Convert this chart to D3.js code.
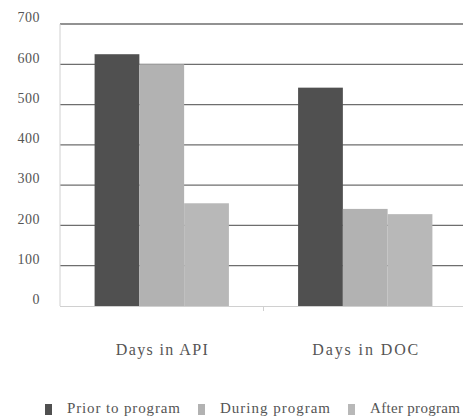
<!DOCTYPE html>
<html><head><meta charset="utf-8">
<script src="https://cdn.jsdelivr.net/npm/d3@7"></script>
<style>body{margin:0;background:#fff;} svg{display:block;}</style>
</head><body>
<svg id="c" width="463" height="419"></svg>
<script>
const categories = ["Days in API", "Days in DOC"];
const seriesNames = ["Prior to program", "During program", "After program"];
const priorValues = [625, 542];
const duringValues = [600, 241];
const afterValues = [255, 228];
const yTicks = [0, 100, 200, 300, 400, 500, 600, 700];
const colors = ["#505050", "#b2b2b2", "#b8b8b8"];

const series = [priorValues, duringValues, afterValues];
const svg = d3.select("#c");
const font = "'Liberation Serif', 'DejaVu Serif', serif";

const x = d3.scaleBand().domain(categories).range([60, 467]).paddingInner(0.34).paddingOuter(0.17);
const xs = d3.scaleBand().domain(seriesNames).range([0, x.bandwidth()]);
const y = d3.scaleLinear().domain([0, 700]).range([306, 24]);

// gridlines
svg.append("g").selectAll("line").data(yTicks.filter(d => d > 0)).join("line")
  .attr("x1", 60).attr("x2", 463)
  .attr("y1", d => y(d)).attr("y2", d => y(d))
  .attr("stroke", "#6e6e6e").attr("stroke-width", 1.3);

// y axis line
svg.append("line").attr("x1", 60).attr("x2", 60).attr("y1", 24).attr("y2", 306)
  .attr("stroke", "#d0d0d0");

// bars
categories.forEach((c, i) => {
  svg.append("g").selectAll("rect").data(seriesNames).join("rect")
    .attr("x", (s) => x(c) + xs(s))
    .attr("width", xs.bandwidth())
    .attr("y", (s, j) => y(series[j][i]))
    .attr("height", (s, j) => y(0) - y(series[j][i]))
    .attr("fill", (s, j) => colors[j]);
});

// x axis line
svg.append("line").attr("x1", 60).attr("x2", 463).attr("y1", 306.5).attr("y2", 306.5)
  .attr("stroke", "#d0d0d0");
svg.append("line").attr("x1", 263.5).attr("x2", 263.5).attr("y1", 306).attr("y2", 311)
  .attr("stroke", "#d0d0d0");

// y labels
svg.append("g").selectAll("text").data(yTicks).join("text")
  .attr("x", 40).attr("y", d => y(d) - 5)
  .attr("text-anchor", "end").attr("dominant-baseline", "middle")
  .attr("font-family", font).attr("font-size", 14).attr("fill", "#555")
  .attr("letter-spacing", 0.5)
  .text(d => d);

// x labels
const xLabelW = [92, 106];
svg.append("g").selectAll("text").data(categories).join("text")
  .attr("x", d => x(d) + x.bandwidth() / 2).attr("y", 355)
  .attr("text-anchor", "middle")
  .attr("font-family", font).attr("font-size", 16).attr("fill", "#555")
  .attr("textLength", (d, i) => xLabelW[i]).attr("lengthAdjust", "spacing")
  .text(d => d);

// legend
const legendX = [45, 198, 348];
const legendW = [113, 110, 90];
const lg = svg.append("g").selectAll("g").data(seriesNames).join("g")
  .attr("transform", (d, i) => `translate(${legendX[i]},403)`);
lg.append("rect").attr("width", 7).attr("height", 11).attr("y", 1).attr("fill", (d, i) => colors[i]);
lg.append("text").attr("x", 22).attr("y", 10)
  .attr("font-family", font).attr("font-size", 15).attr("fill", "#555")
  .attr("textLength", (d, i) => legendW[i]).attr("lengthAdjust", "spacing")
  .text(d => d);
</script>
</body></html>
